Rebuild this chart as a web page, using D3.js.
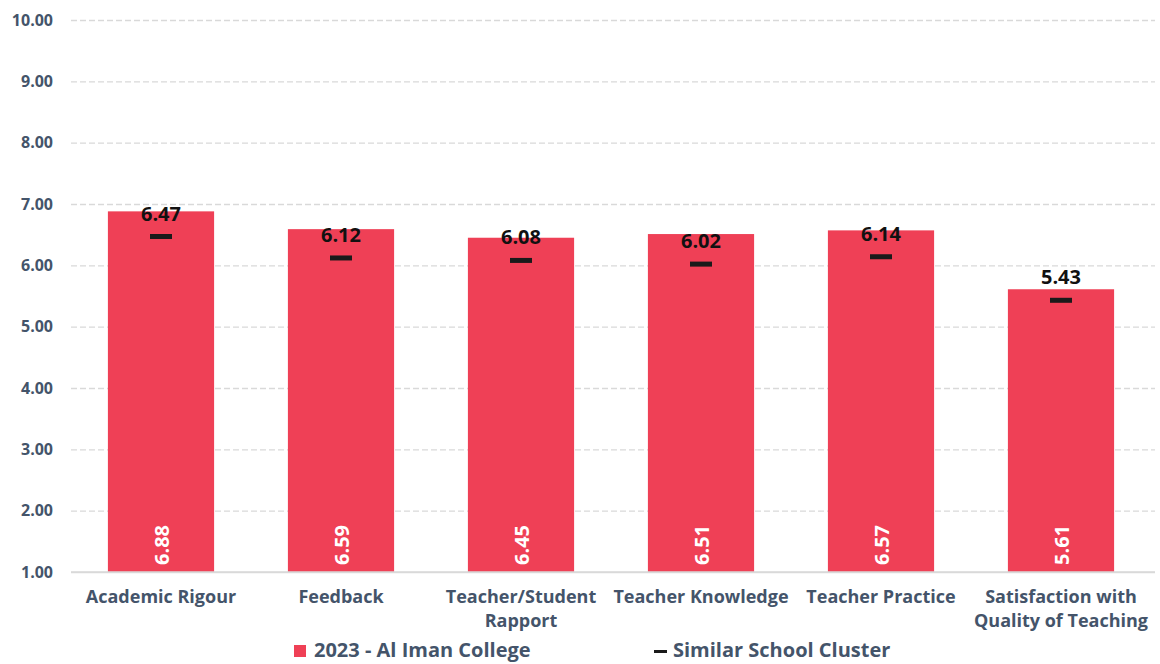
<!DOCTYPE html>
<html>
<head>
<meta charset="utf-8">
<script src="https://cdn.jsdelivr.net/npm/d3@7"></script>
<style>
  html, body { margin: 0; padding: 0; background: #fff; }
  svg { display: block; }
  text { font-family: "Open Sans", "Noto Sans", sans-serif; }
</style>
</head>
<body>
<svg id="chart" width="1160" height="664"></svg>
<script>
const categories = [
  ["Academic Rigour"],
  ["Feedback"],
  ["Teacher/Student", "Rapport"],
  ["Teacher Knowledge"],
  ["Teacher Practice"],
  ["Satisfaction with", "Quality of Teaching"]
];
const schoolValues = [6.88, 6.59, 6.45, 6.51, 6.57, 5.61];
const clusterValues = [6.47, 6.12, 6.08, 6.02, 6.14, 5.43];
const yTicks = [1, 2, 3, 4, 5, 6, 7, 8, 9, 10];
const seriesNames = ["2023 - Al Iman College", "Similar School Cluster"];

const barColor = "#EF4056";
const labelColor = "#44546A";

const svg = d3.select("#chart");
const plotLeft = 71, plotRight = 1151, plotTop = 20, plotBottom = 572, gridEnd = 1155;

const x = d3.scaleBand()
  .domain(d3.range(categories.length))
  .range([plotLeft, plotRight])
  .paddingInner(0.41)
  .paddingOuter(0.205);

const y = d3.scaleLinear().domain([1, 10]).range([plotBottom, plotTop]);

// gridlines and value axis
const yAxis = d3.axisLeft(y)
  .tickValues(yTicks)
  .tickFormat(d3.format(".2f"))
  .tickSize(-(gridEnd - plotLeft))
  .tickPadding(18);

const gy = svg.append("g")
  .attr("transform", `translate(${plotLeft},0)`)
  .call(yAxis);
gy.select(".domain").remove();
gy.selectAll(".tick line")
  .attr("stroke", "#d9d9d9")
  .attr("stroke-width", 1.3)
  .attr("stroke-dasharray", d => d === 1 ? null : "6,3");
gy.selectAll(".tick text")
  .attr("fill", labelColor)
  .attr("font-size", 16)
  .attr("font-weight", 700);

// school bars
svg.append("g").selectAll("rect")
  .data(schoolValues)
  .join("rect")
  .attr("x", (d, i) => x(i))
  .attr("width", x.bandwidth())
  .attr("y", d => y(d))
  .attr("height", d => y(1) - y(d))
  .attr("fill", barColor);

// baseline
svg.append("line")
  .attr("x1", plotLeft).attr("x2", gridEnd)
  .attr("y1", y(1)).attr("y2", y(1))
  .attr("stroke", "#d9d9d9").attr("stroke-width", 1.5);

// school value labels (rotated, inside bottom of bar)
svg.append("g").selectAll("text")
  .data(schoolValues)
  .join("text")
  .attr("transform", (d, i) => `translate(${x(i) + x.bandwidth() / 2 + 8},${y(1) - 27}) rotate(-90)`)
  .attr("text-anchor", "middle")
  .attr("fill", "#fff")
  .attr("font-size", 20)
  .attr("font-weight", 700)
  .attr("font-family", "'DejaVu Sans Condensed', 'Liberation Sans Narrow', sans-serif")
  .text(d => d.toFixed(2));

// cluster markers
svg.append("g").selectAll("rect")
  .data(clusterValues)
  .join("rect")
  .attr("x", (d, i) => x(i) + x.bandwidth() / 2 - 11)
  .attr("width", 22)
  .attr("y", d => y(d) - 2.5)
  .attr("height", 5)
  .attr("fill", "#1a1a1a");

// cluster value labels
svg.append("g").selectAll("text")
  .data(clusterValues)
  .join("text")
  .attr("x", (d, i) => x(i) + x.bandwidth() / 2)
  .attr("y", d => y(d) - 16)
  .attr("text-anchor", "middle")
  .attr("fill", "#111")
  .attr("font-size", 20)
  .attr("font-weight", 700)
  .text(d => d.toFixed(2));

// category labels
const catG = svg.append("g");
categories.forEach((lines, i) => {
  const t = catG.append("text")
    .attr("x", x(i) + x.bandwidth() / 2)
    .attr("y", 603)
    .attr("text-anchor", "middle")
    .attr("fill", labelColor)
    .attr("font-size", 18)
    .attr("font-weight", 700);
  lines.forEach((ln, k) => {
    t.append("tspan")
      .attr("x", x(i) + x.bandwidth() / 2)
      .attr("dy", k === 0 ? 0 : 24)
      .text(ln);
  });
});

// legend
const lg = svg.append("g");
lg.append("rect").attr("x", 294).attr("y", 645).attr("width", 12).attr("height", 12).attr("fill", barColor);
lg.append("text").attr("x", 314).attr("y", 657)
  .attr("fill", labelColor).attr("font-size", 20).attr("font-weight", 700)
  .text(seriesNames[0]);
lg.append("rect").attr("x", 654).attr("y", 650).attr("width", 13).attr("height", 3).attr("fill", "#1a1a1a");
lg.append("text").attr("x", 673).attr("y", 657)
  .attr("fill", labelColor).attr("font-size", 20).attr("font-weight", 700)
  .text(seriesNames[1]);
</script>
</body>
</html>
